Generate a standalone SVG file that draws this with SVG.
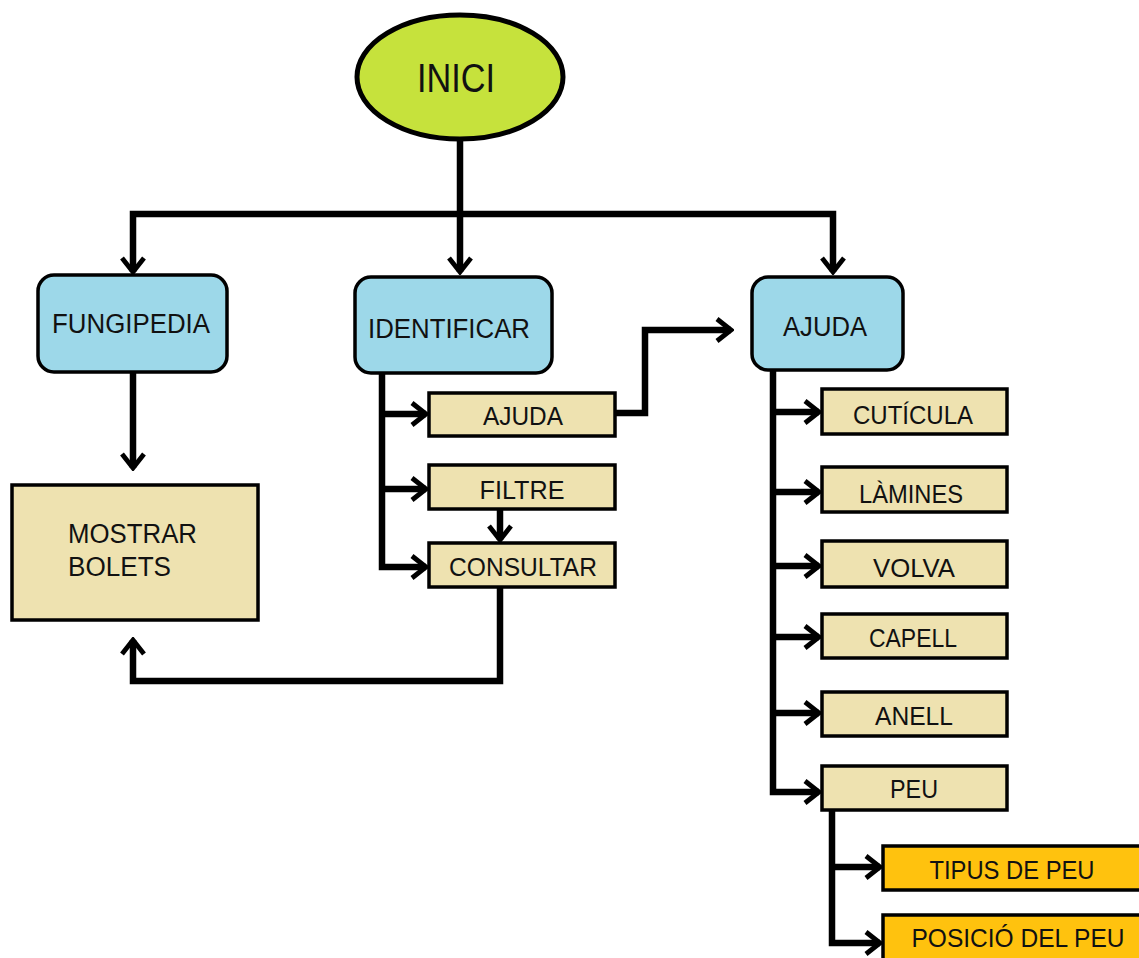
<svg xmlns="http://www.w3.org/2000/svg" width="1139" height="958" viewBox="0 0 1139 958">
<style>
text{font-family:"Liberation Sans",Arial,sans-serif;fill:#111;text-anchor:middle}
.big{font-size:27px}
.sm{font-size:26px}
.blue{fill:#9dd8e9;stroke:#000;stroke-width:3.5}
.tan{fill:#eee2b0;stroke:#000;stroke-width:3.5}
.org{fill:#ffc20e;stroke:#000;stroke-width:3.5}
.c{fill:none;stroke:#000;stroke-width:6.5;stroke-linejoin:miter}
</style>
<defs>
<marker id="ah" markerUnits="userSpaceOnUse" viewBox="0 0 20 26" refX="17" refY="13" markerWidth="20" markerHeight="26" orient="auto">
<path d="M3,2 L17,13 L3,24" fill="none" stroke="#000" stroke-width="4.8"/>
</marker>
</defs>
<rect width="1139" height="958" fill="#fff"/>
<g id="connectors">
<path class="c" d="M460,140 L460,272" marker-end="url(#ah)"/>
<path class="c" d="M460,214 L133,214 L133,272" marker-end="url(#ah)"/>
<path class="c" d="M460,214 L833,214 L833,272" marker-end="url(#ah)"/>
<path class="c" d="M133,372 L133,468" marker-end="url(#ah)"/>
<path class="c" d="M382,373 L382,567 L426,567" marker-end="url(#ah)"/>
<path class="c" d="M382,414 L426,414" marker-end="url(#ah)"/>
<path class="c" d="M382,489 L426,489" marker-end="url(#ah)"/>
<path class="c" d="M500,509 L500,540" marker-end="url(#ah)"/>
<path class="c" d="M500,588 L500,681 L133,681 L133,640" marker-end="url(#ah)"/>
<path class="c" d="M615,413 L645,413 L645,330 L731,330" marker-end="url(#ah)"/>
<path class="c" d="M773,370 L773,792 L819,792" marker-end="url(#ah)"/>
<path class="c" d="M773,412 L819,412" marker-end="url(#ah)"/>
<path class="c" d="M773,492 L819,492" marker-end="url(#ah)"/>
<path class="c" d="M773,566 L819,566" marker-end="url(#ah)"/>
<path class="c" d="M773,637 L819,637" marker-end="url(#ah)"/>
<path class="c" d="M773,713 L819,713" marker-end="url(#ah)"/>
<path class="c" d="M832,810 L832,943 L880,943" marker-end="url(#ah)"/>
<path class="c" d="M832,867 L880,867" marker-end="url(#ah)"/>
</g>
<g id="inici">
<ellipse cx="460" cy="77" rx="103" ry="62" fill="#c6e23c" stroke="#000" stroke-width="5"/>
<text x="456" y="92" font-size="40" textLength="78" lengthAdjust="spacingAndGlyphs">INICI</text>
</g>
<g id="fungipedia">
<rect class="blue" x="38" y="275" width="189" height="97" rx="16"/>
<text class="big" x="131" y="333" textLength="158" lengthAdjust="spacingAndGlyphs">FUNGIPEDIA</text>
</g>
<g id="identificar">
<rect class="blue" x="355" y="277" width="197" height="96" rx="16"/>
<text class="big" x="449" y="338" textLength="162" lengthAdjust="spacingAndGlyphs">IDENTIFICAR</text>
</g>
<g id="ajuda-main">
<rect class="blue" x="752" y="277" width="151" height="93" rx="16"/>
<text class="big" x="825" y="336" textLength="84" lengthAdjust="spacingAndGlyphs">AJUDA</text>
</g>
<g id="mostrar">
<rect class="tan" x="12" y="485" width="246" height="135"/>
<text class="big" x="68" y="543" style="text-anchor:start" textLength="129" lengthAdjust="spacingAndGlyphs">MOSTRAR</text>
<text class="big" x="68" y="576" style="text-anchor:start" textLength="103" lengthAdjust="spacingAndGlyphs">BOLETS</text>
</g>
<g id="ajuda-sub">
<rect class="tan" x="429" y="393" width="186" height="43"/>
<text class="sm" x="523" y="425" textLength="80" lengthAdjust="spacingAndGlyphs">AJUDA</text>
</g>
<g id="filtre">
<rect class="tan" x="429" y="465" width="186" height="44"/>
<text class="sm" x="522" y="499" textLength="85" lengthAdjust="spacingAndGlyphs">FILTRE</text>
</g>
<g id="consultar">
<rect class="tan" x="429" y="543" width="186" height="44"/>
<text class="sm" x="523" y="576" textLength="148" lengthAdjust="spacingAndGlyphs">CONSULTAR</text>
</g>
<g id="cuticula">
<rect class="tan" x="822" y="389" width="185" height="45"/>
<text class="sm" x="913" y="424" textLength="120" lengthAdjust="spacingAndGlyphs">CUTÍCULA</text>
</g>
<g id="lamines">
<rect class="tan" x="822" y="467" width="185" height="45"/>
<text class="sm" x="911" y="503" textLength="104" lengthAdjust="spacingAndGlyphs">LÀMINES</text>
</g>
<g id="volva">
<rect class="tan" x="822" y="541" width="185" height="46"/>
<text class="sm" x="914" y="577" textLength="82" lengthAdjust="spacingAndGlyphs">VOLVA</text>
</g>
<g id="capell">
<rect class="tan" x="822" y="614" width="185" height="44"/>
<text class="sm" x="913" y="647" textLength="88" lengthAdjust="spacingAndGlyphs">CAPELL</text>
</g>
<g id="anell">
<rect class="tan" x="822" y="692" width="185" height="44"/>
<text class="sm" x="914" y="725" textLength="78" lengthAdjust="spacingAndGlyphs">ANELL</text>
</g>
<g id="peu">
<rect class="tan" x="822" y="766" width="185" height="44"/>
<text class="sm" x="914" y="798" textLength="48" lengthAdjust="spacingAndGlyphs">PEU</text>
</g>
<g id="tipus">
<rect class="org" x="883" y="846" width="260" height="44"/>
<text class="sm" x="1012" y="879" textLength="165" lengthAdjust="spacingAndGlyphs">TIPUS DE PEU</text>
</g>
<g id="posicio">
<rect class="org" x="883" y="915" width="260" height="50"/>
<text class="sm" x="1018" y="947" textLength="213" lengthAdjust="spacingAndGlyphs">POSICIÓ DEL PEU</text>
</g>
</svg>
